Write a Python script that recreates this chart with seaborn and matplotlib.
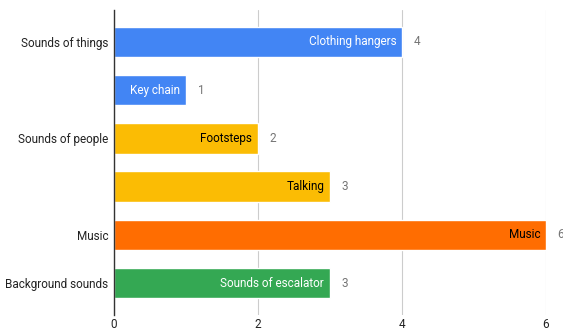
import matplotlib
matplotlib.use("Agg")
import matplotlib.pyplot as plt
import seaborn as sns
import pandas as pd

bar_labels = ["Clothing hangers", "Key chain", "Footsteps", "Talking", "Music", "Sounds of escalator"]
values = [4, 1, 2, 3, 6, 3]
groups = ["Sounds of things", "Sounds of things", "Sounds of people", "Sounds of people", "Music", "Background sounds"]
axis_labels = ["Sounds of things", "", "Sounds of people", "", "Music", "Background sounds"]
group_colors = {"Sounds of things": "#4285F4", "Sounds of people": "#FBBC04",
                "Music": "#FF6D01", "Background sounds": "#34A853"}
inner_text_colors = {"Sounds of things": "white", "Sounds of people": "black",
                     "Music": "black", "Background sounds": "white"}
x_ticks = [0, 2, 4, 6]

sns.set_theme(style="white")
plt.rcParams["font.family"] = ["Roboto", "DejaVu Sans"]

df = pd.DataFrame({"pos": [str(i) for i in range(len(bar_labels))], "value": values,
                   "group": groups, "label": bar_labels})

fig = plt.figure(figsize=(5.63, 3.33), dpi=100)
ax = fig.add_axes([0.2025, 0.054, 0.7673, 0.916])
sns.barplot(data=df, y="pos", x="value", hue="group", palette=group_colors,
            dodge=False, width=0.63, legend=False, ax=ax, saturation=1)

fs = 8.5
ax.set_xlim(0, 6)
ax.set_ylim(5.66, -0.66)
ax.set_xticks(x_ticks)
ax.set_xticklabels([str(t) for t in x_ticks], fontsize=fs, color="#222222")
ax.set_yticks(range(len(axis_labels)))
ax.set_yticklabels(axis_labels, fontsize=fs, color="#222222")
ax.tick_params(axis="y", length=0, pad=4)
ax.tick_params(axis="x", length=0, pad=2)
ax.set_xlabel("")
ax.set_ylabel("")
ax.grid(axis="x", color="#cccccc", linewidth=0.8)
ax.set_axisbelow(True)
for s in ["top", "right", "bottom"]:
    ax.spines[s].set_visible(False)
ax.spines["left"].set_color("#333333")
ax.spines["left"].set_linewidth(1.0)
ax.spines["left"].set_zorder(5)

for i, (lab, v, g) in enumerate(zip(bar_labels, values, groups)):
    ax.text(v - 0.08, i, lab, ha="right", va="center", fontsize=fs,
            color=inner_text_colors[g])
    ax.text(v + 0.16, i, str(v), ha="left", va="center", fontsize=fs, color="#757575",
            clip_on=False)

fig.savefig("out.png", dpi=100)
